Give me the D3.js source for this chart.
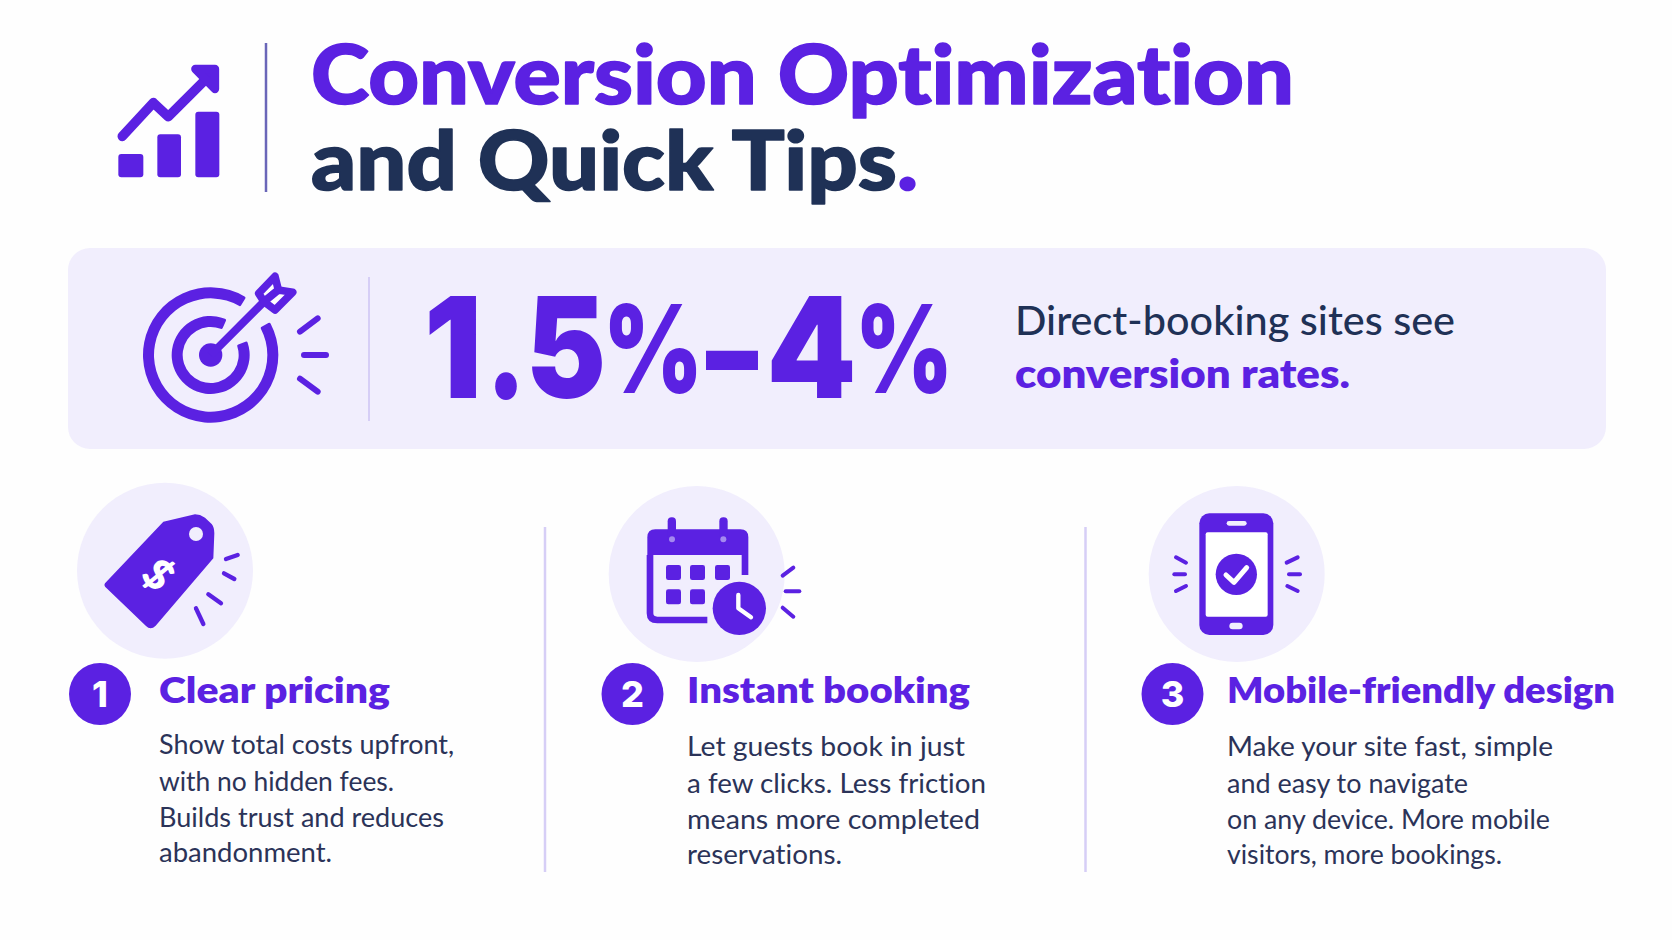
<!DOCTYPE html>
<html><head><meta charset="utf-8">
<script src="https://cdn.jsdelivr.net/npm/d3@7/dist/d3.min.js"></script>
<style>html,body{margin:0;padding:0;background:#fefefe}svg{display:block}text{font-family:Lato,sans-serif;font-variant-ligatures:none}</style>
</head><body><svg id="c" width="1672" height="940" viewBox="0 0 1672 940"></svg>
<script>
const titleTop = "Conversion Optimization";
const titleBottom = "and Quick Tips";
const titleEnd = ".";
const statGlyphs = ["1", ".", "5", "%", "–", "4", "%"];
const statLead = "Direct-booking sites see";
const statEmphasis = "conversion rates.";
const tipNumbers = ["1", "2", "3"];
const tipTitles = ["Clear pricing", "Instant booking", "Mobile-friendly design"];
const tipBodies = [
  ["Show total costs upfront,", "with no hidden fees.", "Builds trust and reduces", "abandonment."],
  ["Let guests book in just", "a few clicks. Less friction", "means more completed", "reservations."],
  ["Make your site fast, simple", "and easy to navigate", "on any device. More mobile", "visitors, more bookings."]
];

const PURPLE = "#5b21e2", NAVY = "#1f3156", TINT = "#f1eefd", RULE = "#d6cef6", BODY = "#2b3358";
const svg = d3.select("#c");
svg.append("rect").attr("width", 1672).attr("height", 940).attr("fill", "#fefefe");

const badgeX = d3.scaleOrdinal().domain(tipNumbers).range([100, 632.5, 1172.5]);
const textX = d3.scaleOrdinal().domain(tipNumbers).range([159, 687, 1227]);
const discX = d3.scaleOrdinal().domain(tipNumbers).range([165, 696.7, 1236.7]);
const discY = d3.scaleOrdinal().domain(tipNumbers).range([570.7, 574, 574]);
const bodyTop = d3.scaleOrdinal().domain(tipNumbers).range([754, 756, 756]);
const titleW = d3.scaleOrdinal().domain(tipNumbers).range([231, 283, 388]);
const lineY = d3.scaleOrdinal().domain([0, 1, 2, 3]).range([0, 37, 72.5, 108]);
const bodyW = d3.scaleOrdinal().domain(tipNumbers).range([
  [295, 235, 285, 173], [278, 299, 293, 155], [326, 241, 323, 275]
]);
// layout of the big figure: glyph index -> x, advance, size, baseline
const statX = [424, 486, 526, 603, 706, 766.5, 855];
const statAdv = [58, 40, 80, 100, 52, 90, 98];
const statSize = [140, 140, 140, 122, 130, 140, 122];
const statBase = [398, 398, 398, 393, 398, 398, 393];

function label(g, s, x, y, size, weight, fill, width) {
  const t = g.append("text").attr("x", x).attr("y", y).attr("font-size", size)
    .attr("font-weight", weight).attr("fill", fill).text(s);
  if (width) t.attr("textLength", width).attr("lengthAdjust", "spacingAndGlyphs");
  return t;
}
function icon(ox, oy) { return svg.append("g").attr("transform", `translate(${ox},${oy}) scale(${1/3})`); }
function rays(g, list, w) {
  g.selectAll(null).data(list).join("line")
    .attr("x1", d => d[0]).attr("y1", d => d[1]).attr("x2", d => d[2]).attr("y2", d => d[3])
    .attr("stroke", PURPLE).attr("stroke-width", w).attr("stroke-linecap", "round");
}
const line = d3.line();

/* header */
const hi = icon(90, 20);
[[85, 402, 75, 70], [202, 343, 71, 129], [316, 275, 72, 197]].forEach(b =>
  hi.append("rect").attr("x", b[0]).attr("y", b[1]).attr("width", b[2]).attr("height", b[3]).attr("rx", 9).attr("fill", PURPLE));
hi.append("path").attr("d", line([[97, 349], [190, 248], [235, 290], [365, 160]])).attr("fill", "none")
  .attr("stroke", PURPLE).attr("stroke-width", 29).attr("stroke-linecap", "round").attr("stroke-linejoin", "round");
hi.append("path").attr("d", line([[316, 147], [375, 147], [375, 207]]) + "Z").attr("fill", PURPLE)
  .attr("stroke", PURPLE).attr("stroke-width", 25).attr("stroke-linejoin", "round");
svg.append("line").attr("x1", 266).attr("x2", 266).attr("y1", 43).attr("y2", 192).attr("stroke", "#6a66b8").attr("stroke-width", 2.5);

label(svg, titleTop, 311, 104, 81, 900, PURPLE, 983).attr("stroke", PURPLE).attr("stroke-width", 1.6).attr("stroke-linejoin", "round");
const t2 = label(svg, titleBottom, 311, 190, 81, 900, NAVY).attr("stroke", NAVY).attr("stroke-width", 1.6).attr("stroke-linejoin", "round");
t2.append("tspan").attr("fill", PURPLE).attr("stroke", PURPLE).text(titleEnd);
t2.attr("textLength", 607).attr("lengthAdjust", "spacingAndGlyphs");

/* banner */
svg.append("rect").attr("x", 68).attr("y", 248).attr("width", 1538).attr("height", 201).attr("rx", 22).attr("fill", TINT);
const ti = icon(60, 240);
const arc = d3.arc().cornerRadius(5);
const deg = Math.PI / 180;
const target = ti.append("g").attr("transform", "translate(452,345)");
target.append("path").attr("d", arc({ innerRadius: 170, outerRadius: 203, startAngle: 61 * deg, endAngle: 391.5 * deg })).attr("fill", PURPLE);
target.append("path").attr("d", arc({ innerRadius: 84, outerRadius: 117, startAngle: 69 * deg, endAngle: 384 * deg })).attr("fill", PURPLE);
target.append("circle").attr("r", 35).attr("fill", PURPLE);
ti.append("line").attr("x1", 452).attr("y1", 345).attr("x2", 612).attr("y2", 185).attr("stroke", PURPLE).attr("stroke-width", 24);
ti.append("path").attr("d", line([[612, 185], [596, 160], [645, 109], [655, 150]]) + "Z").attr("fill", "#fff")
  .attr("stroke", PURPLE).attr("stroke-width", 23).attr("stroke-linejoin", "round");
ti.append("path").attr("d", line([[612, 185], [645, 210], [698, 157], [655, 150]]) + "Z").attr("fill", "#fff")
  .attr("stroke", PURPLE).attr("stroke-width", 23).attr("stroke-linejoin", "round");
rays(ti, [[720, 275, 773, 235], [732, 345, 798, 345], [720, 416, 773, 455]], 18);
svg.append("line").attr("x1", 369).attr("x2", 369).attr("y1", 277).attr("y2", 421).attr("stroke", RULE).attr("stroke-width", 2);

svg.append("text").attr("font-weight", 900).attr("fill", PURPLE).style("font-family", "Inter")
  .selectAll("tspan").data(statGlyphs).join("tspan")
  .attr("x", (d, i) => statX[i]).attr("y", (d, i) => statBase[i]).attr("font-size", (d, i) => statSize[i])
  .attr("textLength", (d, i) => statAdv[i]).attr("lengthAdjust", "spacingAndGlyphs").text(d => d);
label(svg, statLead, 1015, 335, 40, 500, NAVY, 440);
label(svg, statEmphasis, 1015, 388, 40, 800, PURPLE, 335);

/* dividers */
[545, 1085.5].forEach(x => svg.append("line").attr("x1", x).attr("x2", x).attr("y1", 527).attr("y2", 872).attr("stroke", RULE).attr("stroke-width", 2.5));

/* tips */
const tips = svg.selectAll("g.tip").data(tipNumbers).join("g").attr("class", "tip");
tips.append("circle").attr("cx", d => discX(d)).attr("cy", d => discY(d)).attr("r", 88).attr("fill", TINT);
tips.append("circle").attr("cx", d => badgeX(d)).attr("cy", 694).attr("r", 31).attr("fill", PURPLE);
tips.append("text").attr("x", d => badgeX(d)).attr("y", 707).attr("text-anchor", "middle").attr("font-size", 36)
  .attr("font-weight", 800).attr("fill", "#fff").style("font-family", "Inter").text(d => d);
tips.append("text").attr("x", d => textX(d)).attr("y", 703).attr("font-size", 36).attr("font-weight", 800)
  .attr("fill", PURPLE).attr("textLength", d => titleW(d)).attr("lengthAdjust", "spacingAndGlyphs")
  .text((d, i) => tipTitles[i]);
tips.each(function (d, i) {
  d3.select(this).selectAll("text.b").data(tipBodies[i]).join("text").attr("class", "b")
    .attr("x", textX(d)).attr("y", (s, j) => bodyTop(d) + lineY(j)).attr("font-size", 27).attr("font-weight", 400)
    .attr("fill", BODY).attr("textLength", (s, j) => bodyW(d)[j]).attr("lengthAdjust", "spacingAndGlyphs").text(s => s);
});

/* tag icon */
const tg = icon(60, 480);
tg.append("path").attr("d", "M135,310 L310,125 L405,103 Q420,103 435,113 L455,132 Q463,142 463,160 L460,235 L287,437 Q272,452 258,438 L140,325 Q130,317 135,310Z").attr("fill", PURPLE);
tg.append("circle").attr("cx", 408).attr("cy", 162).attr("r", 21).attr("fill", TINT);
tg.append("text").attr("transform", "translate(295,283) rotate(45)").attr("text-anchor", "middle").attr("dy", "0.36em")
  .attr("font-size", 125).attr("font-weight", 800).attr("fill", "#fff").text("$");
rays(tg, [[498, 237, 533, 225], [492, 280, 523, 297], [445, 343, 483, 370], [408, 385, 430, 432]], 13);

/* calendar icon */
const ca = icon(590, 480);
ca.append("path").attr("d", "M180,225 V400 Q180,420 202,420 H352 M465,225 V285").attr("fill", "none")
  .attr("stroke", PURPLE).attr("stroke-width", 20).attr("stroke-linecap", "butt");
ca.append("path").attr("d", "M172,225 V172 Q172,148 196,148 H451 Q475,148 475,172 V225 Z").attr("fill", PURPLE);
[[233, 246], [388, 400]].forEach(r => {
  ca.append("rect").attr("x", r[0]).attr("y", 112).attr("width", 25).attr("height", 78).attr("rx", 12).attr("fill", PURPLE);
  ca.append("circle").attr("cx", r[1]).attr("cy", 178).attr("r", 9).attr("fill", "#a489ef");
});
[[228, 255], [300, 255], [375, 255], [228, 328], [300, 328]].forEach(c =>
  ca.append("rect").attr("x", c[0]).attr("y", c[1]).attr("width", 45).attr("height", 45).attr("rx", 7).attr("fill", PURPLE));
ca.append("circle").attr("cx", 448).attr("cy", 385).attr("r", 89).attr("fill", TINT);
ca.append("circle").attr("cx", 448).attr("cy", 385).attr("r", 80).attr("fill", PURPLE);
ca.append("path").attr("d", line([[445, 345], [445, 385], [483, 412]])).attr("fill", "none").attr("stroke", "#fff")
  .attr("stroke-width", 13).attr("stroke-linecap", "round").attr("stroke-linejoin", "round");
rays(ca, [[578, 287, 610, 263], [587, 334, 628, 334], [578, 383, 610, 410]], 12);

/* phone icon */
const ph = icon(1130, 480);
ph.append("rect").attr("x", 208).attr("y", 100).attr("width", 222).attr("height", 365).attr("rx", 30).attr("fill", PURPLE);
ph.append("rect").attr("x", 227).attr("y", 157).attr("width", 186).attr("height", 253).attr("rx", 6).attr("fill", "#fff");
ph.append("rect").attr("x", 290).attr("y", 123).attr("width", 60).attr("height", 14).attr("rx", 7).attr("fill", TINT);
ph.append("rect").attr("x", 298).attr("y", 428).attr("width", 40).attr("height", 20).attr("rx", 10).attr("fill", TINT);
ph.append("circle").attr("cx", 319).attr("cy", 283).attr("r", 62).attr("fill", PURPLE);
ph.append("path").attr("d", line([[288, 285], [312, 307], [350, 263]])).attr("fill", "none").attr("stroke", "#fff")
  .attr("stroke-width", 15).attr("stroke-linecap", "round").attr("stroke-linejoin", "round");
rays(ph, [[138, 232, 168, 248], [133, 283, 165, 283], [138, 333, 168, 318], [470, 248, 503, 232], [477, 283, 510, 283], [472, 318, 503, 333]], 12);
</script></body></html>
